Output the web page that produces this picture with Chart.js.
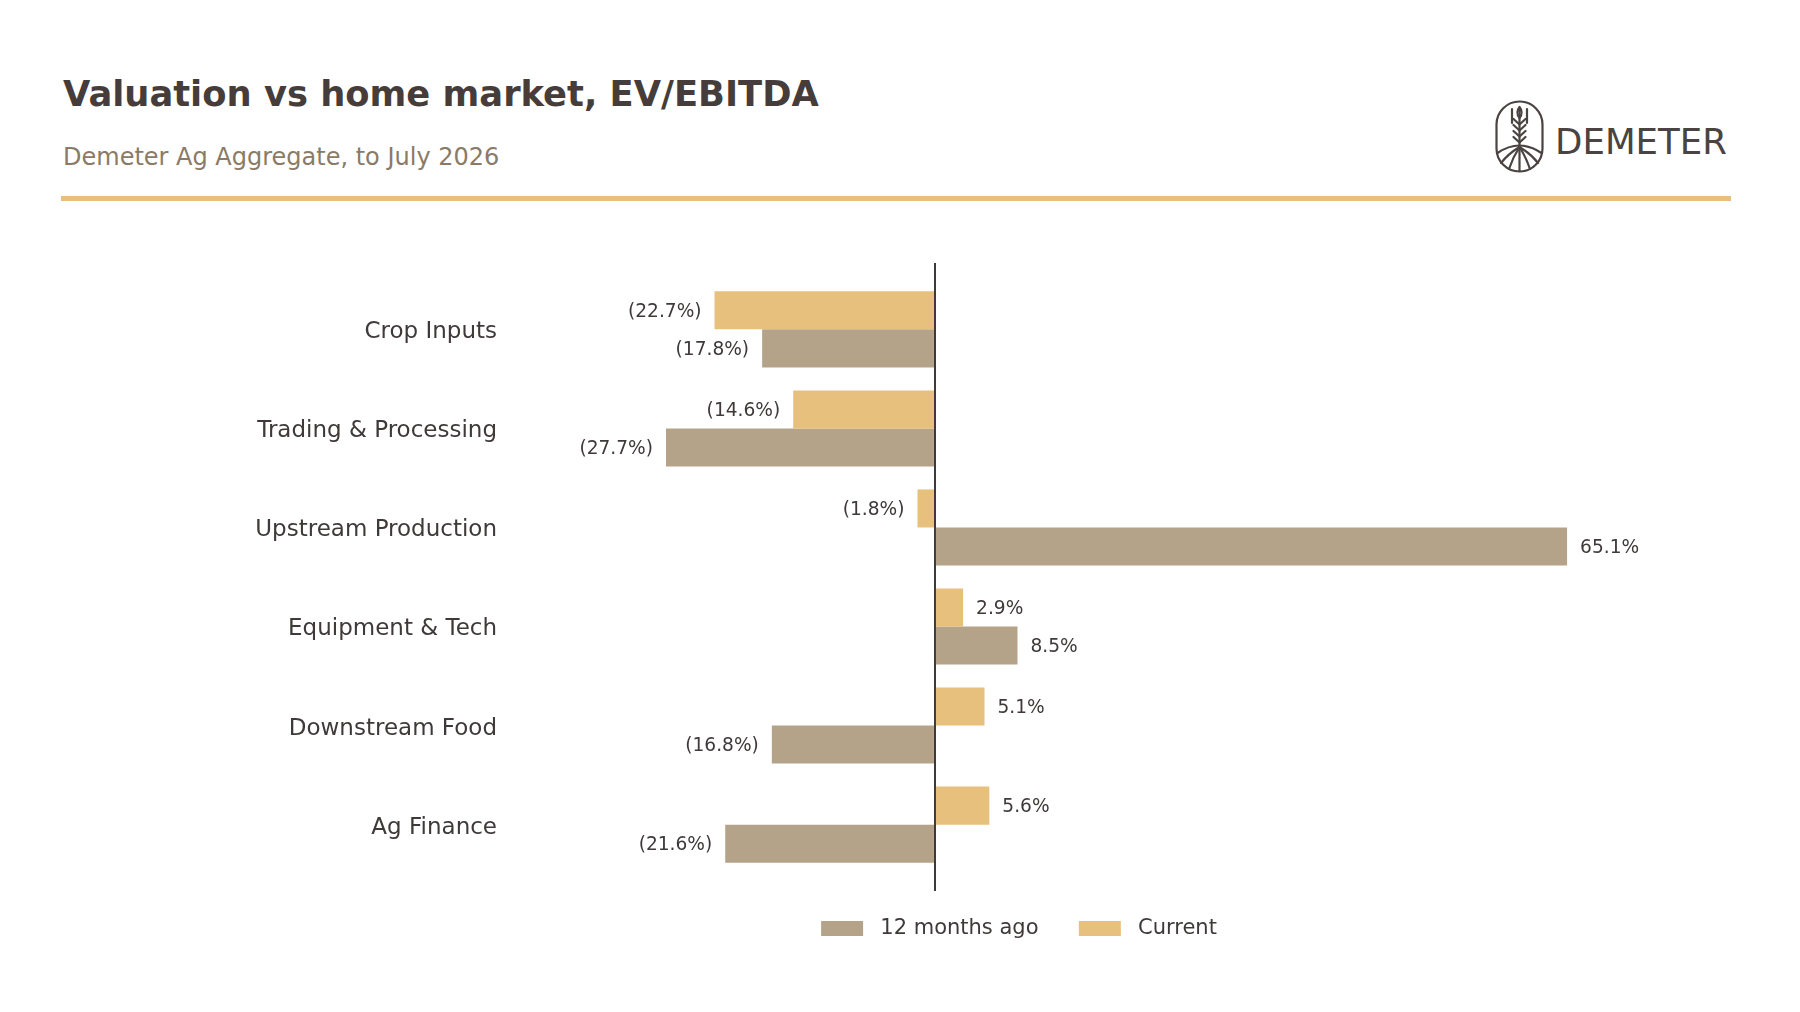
<!DOCTYPE html>
<html lang="en">
<head>
<meta charset="utf-8">
<title>Valuation vs home market, EV/EBITDA</title>
<script src="https://cdn.jsdelivr.net/npm/chart.js@4.4.1/dist/chart.umd.min.js"></script>
<style>
    html, body {
        margin: 0;
        padding: 0;
        background: #ffffff;
        font-family: "DejaVu Sans", sans-serif;
    }
    .page {
        position: relative;
        width: 1800px;
        height: 1012px;
        overflow: hidden;
    }
    .title {
        position: absolute;
        left: 63px;
        top: 76px;
        font-size: 35.3px;
        line-height: 35px;
        font-weight: bold;
        color: #463d3a;
        white-space: nowrap;
    }
    .subtitle {
        position: absolute;
        left: 63px;
        top: 145px;
        font-size: 24px;
        line-height: 24px;
        color: #8a7a66;
        white-space: nowrap;
    }
    .rule {
        position: absolute;
        left: 61px;
        top: 196px;
        width: 1670px;
        height: 5px;
        background: #e8c07d;
    }
    .logo {
        position: absolute;
        left: 1495px;
        top: 100px;
    }
    .brand {
        position: absolute;
        left: 1555px;
        top: 124px;
        font-size: 35.6px;
        line-height: 35px;
        color: #4a4341;
    }
    #valuation-chart {
        position: absolute;
        left: 0;
        top: 0;
    }
</style>
</head>
<body>
<div class="page">
    <div class="title">Valuation vs home market, EV/EBITDA</div>
    <div class="subtitle">Demeter Ag Aggregate, to July 2026</div>
    <div class="rule"></div>

    <svg class="logo" width="49" height="73" viewBox="0 0 49 73">
        <g fill="none" stroke="#4a4341" stroke-width="2.2" stroke-linecap="round" stroke-linejoin="round">
            <rect x="1.5" y="1.5" width="46" height="70" rx="23" ry="23"/>
            <line x1="24.5" y1="8" x2="24.5" y2="47"/>
            <line x1="17" y1="9" x2="17" y2="23"/>
            <line x1="32" y1="9" x2="32" y2="23"/>
            <path d="M24.5 7 C21.8 10.5 21.8 14.5 24.5 18 C27.2 14.5 27.2 10.5 24.5 7 Z"/>
            <polyline points="18.5,19 24.5,24.5 30.5,19"/>
            <polyline points="18.5,25 24.5,30.5 30.5,25"/>
            <polyline points="18.5,31 24.5,36.5 30.5,31"/>
            <polyline points="18.5,37 24.5,42.5 30.5,37"/>
            <path d="M2.5 53 Q24.5 38 46.5 53"/>
            <path d="M24.5 47 L24.5 71"/>
            <path d="M24.5 47 Q18 57 14 69"/>
            <path d="M24.5 47 Q31 57 35 69"/>
            <path d="M24.5 47 Q13 54 6 63"/>
            <path d="M24.5 47 Q36 54 43 63"/>
        </g>
    </svg>
    <div class="brand">DEMETER</div>

    <canvas id="valuation-chart" width="1800" height="1012"></canvas>
</div>

<script>
// Dados do grafico
const categories = [
    'Crop Inputs',
    'Trading & Processing',
    'Upstream Production',
    'Equipment & Tech',
    'Downstream Food',
    'Ag Finance'
];
const currentValues = [-22.7, -14.6, -1.8, 2.9, 5.1, 5.6];
const yearAgoValues = [-17.8, -27.7, 65.1, 8.5, -16.8, -21.6];
const seriesLabels = ['Current', '12 months ago'];

const TEXT_COLOR = '#3f3a39';
const COLOR_CURRENT = '#e8c07d';
const COLOR_YEAR_AGO = '#b4a389';

Chart.defaults.font.family = '"DejaVu Sans", sans-serif';
Chart.defaults.color = TEXT_COLOR;

function formatPct(v) {
    const txt = Math.abs(v).toFixed(1) + '%';
    return v < 0 ? '(' + txt + ')' : txt;
}

// Rotulos no final de cada barra
const barValueLabels = {
    id: 'barValueLabels',
    afterDatasetsDraw(chart) {
        const ctx = chart.ctx;
        ctx.save();
        ctx.font = '18.6px "DejaVu Sans", sans-serif';
        ctx.fillStyle = TEXT_COLOR;
        ctx.textBaseline = 'middle';
        chart.data.datasets.forEach((ds, di) => {
            const meta = chart.getDatasetMeta(di);
            meta.data.forEach((bar, i) => {
                const v = ds.data[i].x;
                if (v < 0) {
                    ctx.textAlign = 'right';
                    ctx.fillText(formatPct(v), bar.x - 13, bar.y + 2);
                } else {
                    ctx.textAlign = 'left';
                    ctx.fillText(formatPct(v), bar.x + 13, bar.y + 2);
                }
            });
        });
        ctx.restore();
    }
};

function toPoints(values) {
    return values.map((v, i) => ({ x: v, y: i }));
}

const ctx = document.getElementById('valuation-chart');

new Chart(ctx.getContext('2d'), {
    type: 'bar',
    data: {
        datasets: [
            {
                label: seriesLabels[0],
                data: toPoints(currentValues),
                backgroundColor: COLOR_CURRENT,
                borderWidth: 0
            },
            {
                label: seriesLabels[1],
                data: toPoints(yearAgoValues),
                backgroundColor: COLOR_YEAR_AGO,
                borderWidth: 0
            }
        ]
    },
    options: {
        indexAxis: 'y',
        responsive: false,
        animation: false,
        devicePixelRatio: 1,
        categoryPercentage: 0.768,
        barPercentage: 1.0,
        layout: {
            padding: { top: 263, bottom: 63, left: 254, right: 16 }
        },
        scales: {
            x: {
                type: 'linear',
                min: -43.56,
                max: 87.44,
                afterBuildTicks(axis) {
                    axis.ticks = [{ value: 0 }];
                },
                grid: {
                    color: TEXT_COLOR,
                    lineWidth: 2,
                    drawTicks: false
                },
                border: { display: false },
                ticks: { display: false }
            },
            y: {
                type: 'linear',
                reverse: true,
                offset: false,
                min: -0.67,
                max: 5.67,
                afterBuildTicks(axis) {
                    axis.ticks = categories.map((c, i) => ({ value: i }));
                },
                afterFit(axis) {
                    axis.width = 258;
                },
                grid: { display: false, drawTicks: false, offset: false },
                border: { display: false },
                ticks: {
                    padding: 15,
                    labelOffset: 3,
                    autoSkip: false,
                    color: TEXT_COLOR,
                    font: { size: 23 },
                    callback: (value) => categories[value] || ''
                }
            }
        },
        plugins: {
            legend: {
                position: 'bottom',
                labels: {
                    boxWidth: 42,
                    boxHeight: 15,
                    padding: 27,
                    color: TEXT_COLOR,
                    font: { size: 21 },
                    sort: (a, b) => b.datasetIndex - a.datasetIndex,
                    generateLabels(chart) {
                        const items = Chart.defaults.plugins.legend.labels.generateLabels(chart);
                        // espaco extra entre caixa e texto, como no original
                        items.forEach(item => {
                            item.text = item.datasetIndex === 1 ? ' ' + item.text + '  ' : ' ' + item.text;
                        });
                        return items;
                    }
                }
            },
            tooltip: { enabled: false },
            title: { display: false }
        }
    },
    plugins: [barValueLabels]
});
</script>
</body>
</html>
